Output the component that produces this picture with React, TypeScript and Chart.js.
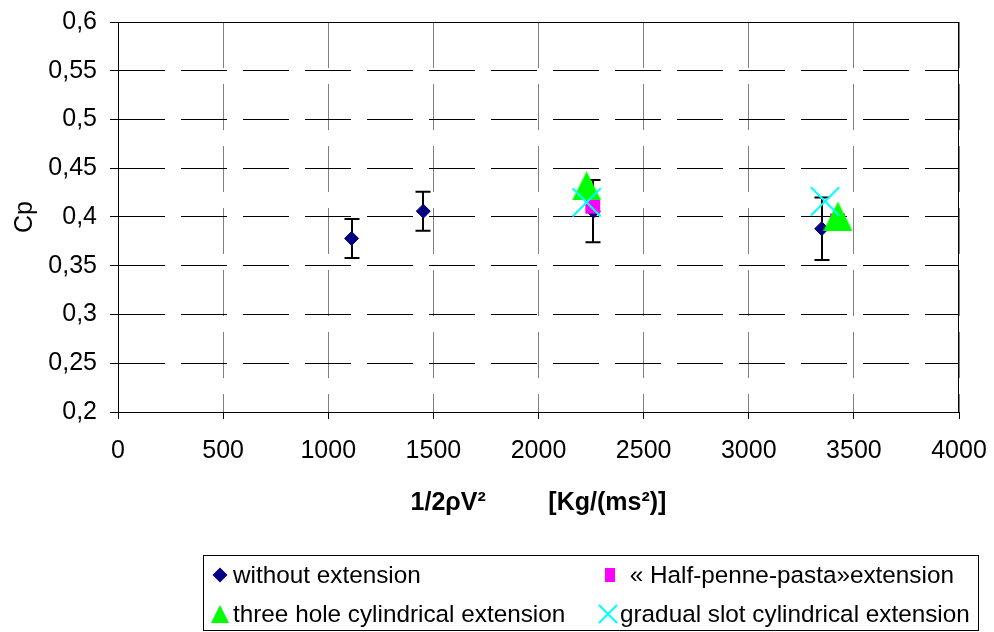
import React, { useEffect, useRef } from "react";
import { Chart, registerables } from "chart.js";

Chart.register(...registerables);

// ---- data ----
const seriesNames = [
  "without extension",
  " « Half-penne-pasta»extension",
  "three hole cylindrical extension",
  "gradual slot cylindrical extension",
];

const xWithout = [1111, 1452, 2261, 3347];
const yWithout = [0.378, 0.406, 0.406, 0.388];
const errWithout = [0.02, 0.02, 0.032, 0.032];

const xPenne = [2258, 3422];
const yPenne = [0.411, 0.396];

const xThreeHole = [2229, 3424];
const yThreeHole = [0.432, 0.401];

const xSlot = [2229, 3363];
const ySlot = [0.415, 0.416];

const xAxisTitle = "1/2ρV²         [Kg/(ms²)]";
const yAxisTitle = "Cp";

const NAVY = "#000080";
const PINK = "#FF00FF";
const GREEN = "#00FF00";
const CYAN = "#00FFFF";
const FONT = '"Liberation Sans", Arial, sans-serif';

const toPoints = (xs: number[], ys: number[]) => xs.map((x, i) => ({ x, y: ys[i] }));

function makeTriangle(w: number, h: number, color: string) {
  const c = document.createElement("canvas");
  c.width = w;
  c.height = h;
  const g = c.getContext("2d")!;
  g.fillStyle = color;
  g.beginPath();
  g.moveTo(w / 2, 0);
  g.lineTo(w, h);
  g.lineTo(0, h);
  g.closePath();
  g.fill();
  return c;
}

function drawMarker(ctx: CanvasRenderingContext2D, kind: string, x: number, y: number) {
  ctx.save();
  if (kind === "diamond") {
    ctx.fillStyle = NAVY;
    ctx.beginPath();
    ctx.moveTo(x, y - 7.5);
    ctx.lineTo(x + 7.5, y);
    ctx.lineTo(x, y + 7.5);
    ctx.lineTo(x - 7.5, y);
    ctx.closePath();
    ctx.fill();
  } else if (kind === "square") {
    ctx.fillStyle = PINK;
    ctx.fillRect(x - 5, y - 7, 10, 14);
  } else if (kind === "triangle") {
    ctx.fillStyle = GREEN;
    ctx.beginPath();
    ctx.moveTo(x, y - 9);
    ctx.lineTo(x + 9, y + 9);
    ctx.lineTo(x - 9, y + 9);
    ctx.closePath();
    ctx.fill();
  } else if (kind === "x") {
    ctx.strokeStyle = CYAN;
    ctx.lineWidth = 2;
    ctx.beginPath();
    ctx.moveTo(x - 9, y - 9);
    ctx.lineTo(x + 9, y + 9);
    ctx.moveTo(x + 9, y - 9);
    ctx.lineTo(x - 9, y + 9);
    ctx.stroke();
  }
  ctx.restore();
}

const errorBarsAndFrame = {
  id: "errorBarsAndFrame",
  beforeDatasetsDraw(chart: any) {
    const { ctx, scales, chartArea } = chart;
    const xs = scales.x;
    const ys = scales.y;
    ctx.save();
    // frame (top & right)
    ctx.strokeStyle = "#000";
    ctx.lineWidth = 1;
    const l = Math.round(chartArea.left) + 0.5;
    const r = Math.round(chartArea.right) - 0.5;
    const t = Math.round(chartArea.top) + 0.5;
    const b = Math.round(chartArea.bottom) + 0.5;
    ctx.beginPath();
    ctx.moveTo(l, t);
    ctx.lineTo(r, t);
    ctx.lineTo(r, b);
    ctx.stroke();
    // error bars
    ctx.lineWidth = 2;
    xWithout.forEach((xv, i) => {
      const px = Math.round(xs.getPixelForValue(xv));
      const top = ys.getPixelForValue(yWithout[i] + errWithout[i]);
      const bot = ys.getPixelForValue(yWithout[i] - errWithout[i]);
      ctx.beginPath();
      ctx.moveTo(px, top);
      ctx.lineTo(px, bot);
      ctx.moveTo(px - 7.5, top);
      ctx.lineTo(px + 7.5, top);
      ctx.moveTo(px - 7.5, bot);
      ctx.lineTo(px + 7.5, bot);
      ctx.stroke();
    });
    ctx.restore();
  },
};

const legendBox = {
  id: "legendBox",
  afterDraw(chart: any) {
    const { ctx } = chart;
    ctx.save();
    ctx.strokeStyle = "#000";
    ctx.lineWidth = 1;
    ctx.strokeRect(203.5, 555.5, 775, 75);
    ctx.font = `24.3px ${FONT}`;
    ctx.fillStyle = "#000";
    ctx.textBaseline = "middle";
    ctx.textAlign = "left";
    const items = [
      { kind: "diamond", mx: 220, tx: 233, y: 575, label: seriesNames[0] },
      { kind: "square", mx: 610, tx: 623, y: 575, label: seriesNames[1] },
      { kind: "triangle", mx: 220, tx: 233, y: 614, label: seriesNames[2] },
      { kind: "x", mx: 608, tx: 620, y: 614, label: seriesNames[3] },
    ];
    items.forEach((it) => {
      drawMarker(ctx, it.kind, it.mx, it.y);
      ctx.fillText(it.label, it.tx, it.y + 1);
    });
    ctx.restore();
  },
};

const fmtY = (v: number) => String(Math.round(v * 100) / 100).replace(".", ",");

export default function App() {
  const ref = useRef<HTMLCanvasElement>(null);

  useEffect(() => {
    const tri = makeTriangle(29, 29, GREEN);
    const chart = new Chart(ref.current!, {
      type: "scatter",
      data: {
        datasets: [
          {
            label: seriesNames[0],
            data: toPoints(xWithout, yWithout),
            pointStyle: "rectRot",
            pointRadius: 7,
            pointBackgroundColor: NAVY,
            pointBorderColor: NAVY,
            pointBorderWidth: 1,
            order: 4,
          },
          {
            label: seriesNames[1],
            data: toPoints(xPenne, yPenne),
            pointStyle: "rect",
            pointRadius: 10.5,
            pointBackgroundColor: PINK,
            pointBorderColor: PINK,
            pointBorderWidth: 0,
            order: 3,
          },
          {
            label: seriesNames[2],
            data: toPoints(xThreeHole, yThreeHole),
            pointStyle: tri as any,
            pointRadius: 14,
            pointBackgroundColor: GREEN,
            pointBorderColor: GREEN,
            order: 2,
          },
          {
            label: seriesNames[3],
            data: toPoints(xSlot, ySlot),
            pointStyle: "crossRot",
            pointRadius: 20,
            pointBackgroundColor: CYAN,
            pointBorderColor: CYAN,
            pointBorderWidth: 2,
            order: 1,
          },
        ],
      },
      options: {
        responsive: false,
        animation: false,
        events: [],
        layout: { padding: { top: 19, right: 35, left: 0, bottom: 0 } },
        plugins: {
          legend: { display: false },
          tooltip: { enabled: false },
        },
        scales: {
          x: {
            type: "linear",
            min: 0,
            max: 4000,
            afterFit: (s: any) => {
              s.height = 220;
              s.paddingLeft = 0;
              s.paddingRight = 0;
            },
            ticks: {
              stepSize: 500,
              color: "#000",
              font: { family: FONT, size: 25 },
              padding: 17,
              maxRotation: 0,
              callback: (v: any) => String(v),
            },
            grid: {
              color: "#808080",
              lineWidth: 1,
              drawTicks: true,
              tickLength: 7,
              tickColor: "#000",
              tickBorderDash: [],
              tickWidth: 1,
            } as any,
            border: { display: true, color: "#000", width: 1, dash: [46, 16] },
            title: {
              display: true,
              text: xAxisTitle,
              color: "#000",
              font: { family: FONT, size: 25, weight: "bold" },
              padding: { top: 0, bottom: 114 },
            },
          },
          y: {
            type: "linear",
            min: 0.2,
            max: 0.6,
            afterFit: (s: any) => {
              s.width = 118;
              s.paddingTop = 0;
              s.paddingBottom = 0;
            },
            ticks: {
              stepSize: 0.05,
              color: "#000",
              font: { family: FONT, size: 25 },
              padding: 13,
              callback: (v: any) => fmtY(Number(v)),
            },
            grid: {
              color: "#000",
              lineWidth: 1,
              drawTicks: true,
              tickLength: 8,
              tickColor: "#000",
              tickBorderDash: [],
              tickWidth: 1,
            } as any,
            border: { display: true, color: "#000", width: 1, dash: [46, 16] },
            title: {
              display: true,
              text: yAxisTitle,
              color: "#000",
              font: { family: FONT, size: 25 },
              padding: { top: 10, bottom: 0 },
            },
          },
        },
      },
      plugins: [errorBarsAndFrame, legendBox],
    } as any);
    return () => chart.destroy();
  }, []);

  return (
    <div style={{ position: "fixed", left: 0, top: 0, width: 994, height: 632, background: "#fff" }}>
      <canvas ref={ref} width={994} height={632} style={{ display: "block", width: 994, height: 632 }} />
    </div>
  );
}
